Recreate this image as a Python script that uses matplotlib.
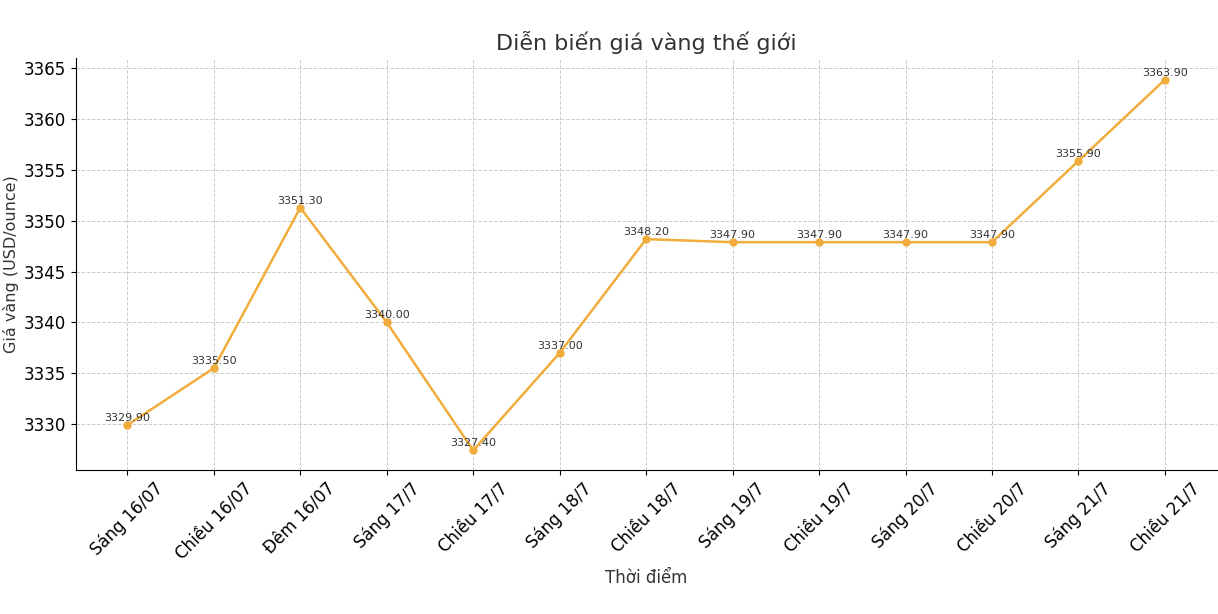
import matplotlib.pyplot as plt

times = ['Sáng 16/07', 'Chiều 16/07', 'Đêm 16/07', 'Sáng 17/7', 'Chiều 17/7',
         'Sáng 18/7', 'Chiều 18/7', 'Sáng 19/7', 'Chiều 19/7', 'Sáng 20/7',
         'Chiều 20/7', 'Sáng 21/7', 'Chiều 21/7']
prices = [3329.90, 3335.50, 3351.30, 3340.00, 3327.40, 3337.00, 3348.20,
          3347.90, 3347.90, 3347.90, 3347.90, 3355.90, 3363.90]

fig = plt.figure(figsize=(12.18, 6.14), dpi=100)
ax = fig.add_axes([0.062, 0.235, 0.937, 0.67])

x = range(len(times))
ax.plot(x, prices, color='#f0ad3c', marker='o', markersize=5, linewidth=1.8)
for i, p in zip(x, prices):
    ax.text(i, p + 0.2, f'{p:.2f}', ha='center', va='bottom', fontsize=8, color='#333333')

ax.set_xticks(list(x))
ax.set_xticklabels(times, rotation=45, ha='center', fontsize=12)
ax.tick_params(axis='y', labelsize=12)
ax.set_xlim(-0.6, 12.6)
ax.set_ylim(3325.5, 3366)
ax.set_yticks(range(3330, 3366, 5))
ax.grid(True, linestyle='--', color='#cccccc', linewidth=0.7)
ax.set_axisbelow(True)
for s in ['top', 'right']:
    ax.spines[s].set_visible(False)

ax.set_title('Diễn biến giá vàng thế giới', fontsize=16, color='#333333')
ax.set_xlabel('Thời điểm', fontsize=12, color='#333333')
ax.set_ylabel('Giá vàng (USD/ounce)', fontsize=11.5, color='#333333', labelpad=3)

fig.savefig('out.png', dpi=100)
